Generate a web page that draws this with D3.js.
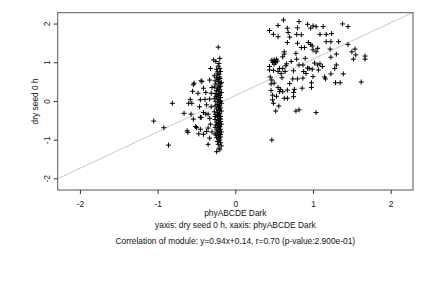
<!DOCTYPE html>
<html>
<head>
<meta charset="utf-8">
<script src="https://cdn.jsdelivr.net/npm/d3@7"></script>
<style>
  body { margin: 0; background: #fff; }
  svg { display: block; font-family: "Liberation Sans", Arial, Helvetica, sans-serif; }
  .tick text { font-size: 8.4px; fill: #111; }
  .lbl { font-size: 8.4px; fill: #111; }
</style>
</head>
<body>
<div id="chart"></div>
<script>
// Axis ticks and regression fit.
var tickValues = [-2, -1, 0, 1, 2];
var slope = 0.94;
var intercept = 0.14;

// Dense vertical strip of the left cluster.
var stripX = [-0.22, -0.28, -0.25, -0.21, -0.32, -0.24, -0.20, -0.21, -0.23, -0.19, -0.27, -0.24, -0.20, -0.26, -0.22, -0.18,
  -0.25, -0.21, -0.19, -0.27, -0.23, -0.20, -0.24, -0.21, -0.18, -0.26, -0.22, -0.20, -0.24, -0.19, -0.27, -0.22,
  -0.20, -0.25, -0.21, -0.18, -0.23, -0.20, -0.26, -0.22, -0.19, -0.24, -0.21, -0.18, -0.27, -0.23, -0.20, -0.25,
  -0.21, -0.19, -0.23, -0.20, -0.26, -0.22, -0.19, -0.24, -0.21, -0.18, -0.23, -0.20, -0.26, -0.22, -0.19, -0.24,
  -0.21, -0.18, -0.23, -0.20, -0.25, -0.22, -0.19, -0.24, -0.21, -0.20, -0.23, -0.19, -0.22, -0.18, -0.21, -0.24,
  -0.20, -0.20, -0.22, -0.19, -0.21, -0.20, -0.22, -0.19, -0.21, -0.20, -0.22, -0.19, -0.21, -0.20, -0.22, -0.19,
  -0.21, -0.22, -0.20, -0.23, -0.25, -0.26, -0.25, -0.26];
var stripY = [1.39, 1.06, 1.02, 0.97, 0.84, 0.82, 0.84, 0.69, 0.75, 0.76, 0.65, 0.60, 0.58, 0.52, 0.50, 0.48,
  0.44, 0.41, 0.38, 0.36, 0.33, 0.30, 0.27, 0.24, 0.22, 0.19, 0.17, 0.14, 0.11, 0.09, 0.06, 0.04,
  0.01, -0.02, -0.04, -0.06, -0.09, -0.11, -0.13, -0.16, -0.18, -0.21, -0.23, -0.26, -0.28, -0.30, -0.33, -0.35,
  -0.38, -0.40, -0.43, -0.45, -0.48, -0.50, -0.53, -0.55, -0.58, -0.60, -0.63, -0.65, -0.68, -0.70, -0.73, -0.75,
  -0.78, -0.80, -0.83, -0.85, -0.88, -0.90, -0.93, -0.95, -0.98, -1.01, -1.05, -1.08, -1.12, -1.16, -1.22, -1.31,
  -1.26, 0.62, 0.55, 0.45, 0.35, 0.20, 0.08, -0.01, -0.14, -0.25, -0.36, -0.47, -0.56, -0.67, -0.77, -0.87,
  -0.94, 0.90, 1.10, 0.70, 0.12, -0.40, -0.62, -0.85];

// Scattered points to the left of the strip.
var spreadX = [-1.05, -0.92, -0.86, -0.81, -0.66, -0.61, -0.58, -0.56, -0.54, -0.55, -0.50, -0.47, -0.44, -0.44, -0.35, -0.57,
  -0.54, -0.60, -0.53, -0.43, -0.48, -0.41, -0.38, -0.45, -0.39, -0.46, -0.37, -0.41, -0.45, -0.51, -0.45, -0.41,
  -0.37, -0.62, -0.33, -0.35, -0.38, -0.33, -0.31, -0.33, -0.31, -0.33, -0.32, -0.35, -0.30, -0.30];
var spreadY = [-0.52, -0.69, -1.14, -0.06, -0.32, -0.81, 0.04, -0.06, 0.42, 0.25, -0.69, -0.85, 0.52, -0.43, -1.12, -0.34,
  -0.47, -0.06, 0.46, 0.50, 0.20, 0.33, 0.22, 0.03, 0.04, -0.15, -0.10, -0.30, -0.42, -0.66, -0.73, -0.86,
  -0.79, -0.77, -0.96, -0.34, -0.34, -0.45, -0.15, 0.05, 0.20, 0.54, -0.60, -0.70, 0.35, -0.80];

// Right cluster (light samples).
var lightX = [0.44, 0.55, 0.62, 0.49, 0.55, 0.67, 0.68, 0.80, 0.82, 0.79, 0.85, 0.93, 0.97, 1.00, 1.04, 1.13,
  1.09, 1.17, 1.24, 1.38, 1.45, 1.17, 1.23, 1.33, 1.45, 1.54, 1.50, 1.55, 1.52, 1.67, 1.67, 1.62,
  1.29, 1.35, 1.39, 1.16, 1.23, 1.28, 1.30, 1.23, 1.30, 1.22, 1.06, 1.00, 1.04, 0.97, 0.94, 0.99,
  0.89, 0.85, 0.80, 0.78, 0.79, 0.82, 0.70, 0.67, 0.63, 0.63, 0.61, 0.50, 0.51, 0.54, 0.47, 0.52,
  0.66, 0.65, 0.61, 0.57, 0.44, 0.44, 0.49, 0.55, 0.59, 0.64, 0.75, 0.88, 0.91, 0.93, 0.87, 0.95,
  0.99, 1.06, 1.09, 1.12, 1.07, 0.87, 1.00, 0.98, 0.98, 0.86, 0.76, 0.75, 0.75, 0.67, 0.63, 0.67,
  0.61, 0.57, 0.55, 0.50, 0.47, 0.46, 0.46, 0.48, 0.48, 0.49, 0.56, 0.52, 0.78, 0.82, 1.04, 0.47,
  0.74, 0.80, 0.48, 0.50, 0.53, 0.45, 0.58, 0.70, 0.72, 0.90, 1.02, 1.15, 0.53, 0.60];
var lightY = [1.82, 1.95, 2.09, 1.72, 1.66, 1.88, 1.77, 1.89, 2.05, 1.72, 1.71, 1.98, 1.88, 1.94, 1.92, 1.92,
  1.72, 1.72, 1.74, 1.99, 1.92, 1.53, 1.53, 1.53, 1.46, 1.34, 1.27, 1.19, 1.08, 1.16, 1.08, 0.49,
  0.47, 0.47, 0.70, 0.57, 0.70, 0.84, 0.93, 1.13, 1.21, 1.34, 1.36, 1.32, 1.27, 1.46, 1.51, 1.42,
  1.38, 1.38, 1.49, 1.23, 1.08, 0.93, 1.65, 1.51, 1.27, 1.21, 1.14, 1.06, 1.02, 1.03, 1.05, 0.99,
  0.96, 0.91, 0.84, 0.84, 0.89, 0.80, 0.79, 0.76, 0.71, 0.76, 0.78, 0.76, 0.71, 0.85, 0.93, 0.84,
  0.82, 0.93, 0.96, 0.89, 0.80, 0.59, 0.63, 0.47, 0.35, 0.33, 0.30, 0.22, 0.11, 0.28, 0.07, 0.07,
  0.24, 0.24, 0.35, 0.46, 0.54, 0.44, 0.27, 0.15, 0.03, -0.06, -0.13, -0.26, -0.26, -0.23, -0.30, -1.01,
  0.57, 0.57, 1.00, 0.95, 1.08, 0.62, 0.30, 0.45, 1.02, 1.10, 0.98, 0.62, 0.12, 0.60];

var xLabel = "phyABCDE Dark";
var yLabel = "dry seed 0 h";
var caption1 = "yaxis: dry seed 0 h, xaxis: phyABCDE Dark";
var caption2 = "Correlation of module: y=0.94x+0.14, r=0.70 (p-value:2.900e-01)";

var W = 432, H = 288;
var box = { left: 57.7, right: 413, top: 12.7, bottom: 190 };

var xScale = d3.scaleLinear().domain([-2.286, 2.287]).range([box.left, box.right]);
var yScale = d3.scaleLinear().domain([-2.30, 2.28]).range([box.bottom, box.top]);

var svg = d3.select("#chart").append("svg")
  .attr("width", W)
  .attr("height", H);

// Clip for the fit line.
svg.append("clipPath").attr("id", "plotclip")
  .append("rect")
  .attr("x", box.left).attr("y", box.top)
  .attr("width", box.right - box.left).attr("height", box.bottom - box.top);

// Regression line across the whole x range.
var xd = xScale.domain();
svg.append("line")
  .attr("clip-path", "url(#plotclip)")
  .attr("x1", xScale(xd[0])).attr("y1", yScale(slope * xd[0] + intercept))
  .attr("x2", xScale(xd[1])).attr("y2", yScale(slope * xd[1] + intercept))
  .attr("stroke", "#c8c8c8")
  .attr("stroke-width", 1);

// Collect all points as [x, y].
var points = [];
[[stripX, stripY], [spreadX, spreadY], [lightX, lightY]].forEach(function(p) {
  p[0].forEach(function(v, i) { points.push([v, p[1][i]]); });
});

var plus = svg.append("g").attr("class", "points");
plus.selectAll("path")
  .data(points)
  .enter().append("path")
  .attr("transform", function(d) { return "translate(" + xScale(d[0]) + "," + yScale(d[1]) + ")"; })
  .attr("d", "M-2.5,0H2.5M0,-2.5V2.5")
  .attr("stroke", "#000")
  .attr("stroke-width", 1)
  .attr("fill", "none");

// Box around the plot.
svg.append("rect")
  .attr("x", box.left).attr("y", box.top)
  .attr("width", box.right - box.left).attr("height", box.bottom - box.top)
  .attr("fill", "none")
  .attr("stroke", "#555")
  .attr("stroke-width", 1);

// x axis
var xAxis = svg.append("g")
  .attr("transform", "translate(0," + box.bottom + ")")
  .call(d3.axisBottom(xScale).tickValues(tickValues).tickSize(4).tickPadding(7)
    .tickFormat(function(d) { return d < 0 ? "-" + Math.abs(d) : d; }));
xAxis.select(".domain").remove();
xAxis.selectAll(".tick line").attr("stroke", "#333");
xAxis.selectAll(".tick text").attr("font-family", null);

// y axis with rotated labels, as R draws them
var yAxis = svg.append("g")
  .attr("transform", "translate(" + box.left + ",0)")
  .call(d3.axisLeft(yScale).tickValues(tickValues).tickSize(4)
    .tickFormat(function(d) { return d < 0 ? "-" + Math.abs(d) : d; }));
yAxis.select(".domain").remove();
yAxis.selectAll(".tick line").attr("stroke", "#333");
yAxis.selectAll(".tick text")
  .attr("font-family", null)
  .attr("x", 0)
  .attr("y", -8)
  .attr("dy", null)
  .attr("text-anchor", "middle")
  .attr("transform", "rotate(-90)");

// Axis titles and captions
var cx = (box.left + box.right) / 2;
svg.append("text").attr("class", "lbl")
  .attr("x", cx).attr("y", 215.5)
  .attr("text-anchor", "middle")
  .text(xLabel);

svg.append("text").attr("class", "lbl")
  .attr("transform", "translate(37.5," + ((box.top + box.bottom) / 2) + ") rotate(-90)")
  .attr("text-anchor", "middle")
  .text(yLabel);

svg.append("text").attr("class", "lbl")
  .attr("x", cx).attr("y", 228)
  .attr("text-anchor", "middle")
  .text(caption1);

svg.append("text").attr("class", "lbl")
  .attr("x", cx).attr("y", 243.5)
  .attr("text-anchor", "middle")
  .text(caption2);
</script>
</body>
</html>
